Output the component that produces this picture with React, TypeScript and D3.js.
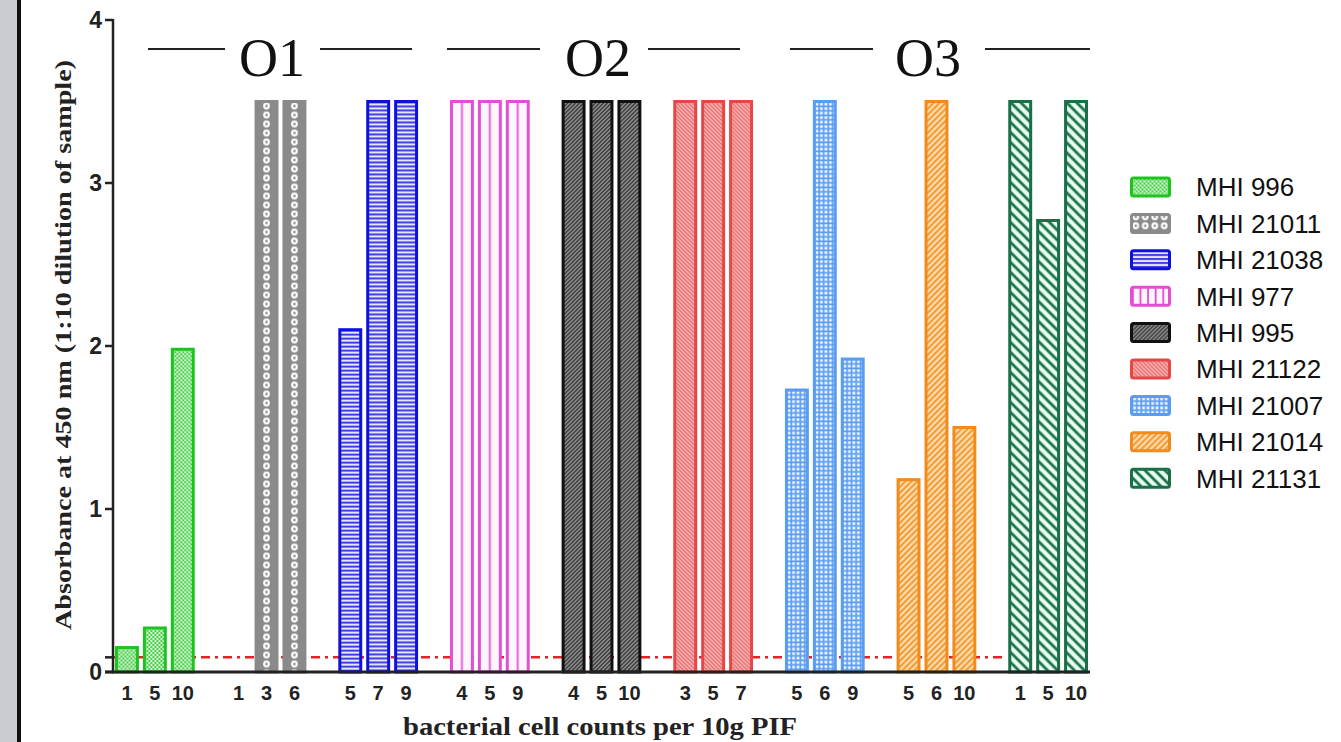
import React, { useEffect, useRef } from 'react';
import * as d3 from 'd3';

// strains (legend order) and the serotype they belong to
const strains = ['MHI 996', 'MHI 21011', 'MHI 21038', 'MHI 977', 'MHI 995', 'MHI 21122', 'MHI 21007', 'MHI 21014', 'MHI 21131'];
const strainColors = ['#1ec41e', '#8a8a8a', '#1010dc', '#e24fd4', '#111111', '#e84646', '#5a9cf0', '#f28a1c', '#1a6e48'];
const serotypes = ['O1', 'O2', 'O3'];
const serotypeOfStrain = ['O1', 'O1', 'O1', 'O2', 'O2', 'O2', 'O3', 'O3', 'O3'];

// x tick labels (bacterial cell counts) per strain
const cellCounts = [
  ['1', '5', '10'],
  ['1', '3', '6'],
  ['5', '7', '9'],
  ['4', '5', '9'],
  ['4', '5', '10'],
  ['3', '5', '7'],
  ['5', '6', '9'],
  ['5', '6', '10'],
  ['1', '5', '10'],
];

// absorbance at 450 nm, one row per strain
const absorbance = [
  [0.15, 0.27, 1.98],
  [0, 3.5, 3.5],
  [2.1, 3.5, 3.5],
  [3.5, 3.5, 3.5],
  [3.5, 3.5, 3.5],
  [3.5, 3.5, 3.5],
  [1.73, 3.5, 1.92],
  [1.18, 3.5, 1.5],
  [3.5, 2.77, 3.5],
];

const yTicks = [0, 1, 2, 3, 4];
const cutoff = 0.09;

const W = 1341, H = 742;

export default function App() {
  const ref = useRef<SVGSVGElement>(null);

  useEffect(() => {
    const svg = d3.select(ref.current);
    svg.selectAll('*').remove();

    const left = 113, right = 1090, top = 20, bottom = 672;

    const x = d3.scaleBand<string>().domain(strains).range([left, right]).paddingInner(0.25).paddingOuter(0);
    const xi = d3.scaleBand<number>().domain([0, 1, 2]).range([0, x.bandwidth()]).paddingInner(0.25).paddingOuter(0.125);
    const y = d3.scaleLinear().domain([0, 4]).range([bottom, top]);
    const bw = xi.bandwidth();

    const defs = svg.append('defs');
    // one pattern per bar so the fill lines up with the bar's left edge
    const makePattern = (id: string, si: number, ox: number, oy: number, w0: number) => {
      const pat = (w: number, h: number, bg: string) => {
        const p = defs.append('pattern').attr('id', id).attr('patternUnits', 'userSpaceOnUse')
          .attr('x', ox).attr('y', oy).attr('width', w).attr('height', h);
        p.append('rect').attr('width', w).attr('height', h).attr('fill', bg);
        return p;
      };
      let p;
      switch (si) {
        case 0:
          p = pat(4, 4, '#d4f4d4');
          p.append('rect').attr('width', 2).attr('height', 2).attr('fill', '#4ccf4c');
          p.append('rect').attr('x', 2).attr('y', 2).attr('width', 2).attr('height', 2).attr('fill', '#4ccf4c');
          break;
        case 1:
          p = pat(w0, 9, '#8a8a8a');
          p.append('circle').attr('cx', w0 / 2).attr('cy', 4.5).attr('r', 3.4).attr('fill', '#fff');
          p.append('circle').attr('cx', w0 / 2).attr('cy', 4.5).attr('r', 1.3).attr('fill', '#8a8a8a');
          break;
        case 2:
          p = pat(4, 4, '#e6e6ff');
          p.append('rect').attr('width', 4).attr('height', 1.8).attr('fill', '#3030e0');
          break;
        case 3:
          p = pat(w0, 8, '#fff6fd');
          p.append('rect').attr('x', w0 / 2 - 0.9).attr('width', 1.8).attr('height', 8).attr('fill', '#e24fd4');
          break;
        case 4:
          p = pat(4, 4, '#2a2a2a');
          p.append('path').attr('d', 'M-1,1 l2,-2 M0,4 l4,-4 M3,5 l2,-2').attr('stroke', '#a8a8a8').attr('stroke-width', 1.3);
          break;
        case 5:
          p = pat(4, 4, '#f6c4c4');
          p.append('path').attr('d', 'M-1,3 l2,2 M0,0 l4,4 M3,-1 l2,2').attr('stroke', '#e45c5c').attr('stroke-width', 1.3);
          break;
        case 6:
          p = pat(4.5, 4.5, '#5a9cf0');
          p.append('rect').attr('x', 1.2).attr('y', 1.2).attr('width', 2.8).attr('height', 2.8).attr('fill', '#eef5ff');
          break;
        case 7:
          p = pat(6, 6, '#f29a34');
          p.append('path').attr('d', 'M-1.5,1.5 l3,-3 M0,6 l6,-6 M4.5,7.5 l3,-3').attr('stroke', '#fde2b8').attr('stroke-width', 2);
          break;
        default:
          p = pat(10, 10, '#e8fff2');
          p.append('path').attr('d', 'M-2.5,7.5 l5,5 M0,0 l10,10 M7.5,-2.5 l5,5').attr('stroke', '#1a6e48').attr('stroke-width', 2.8);
      }
      return `url(#${id})`;
    };

    // left frame
    svg.append('rect').attr('x', 0).attr('y', 0).attr('width', 17).attr('height', H).attr('fill', '#c9cdd1');
    svg.append('rect').attr('x', 17).attr('y', 0).attr('width', 4).attr('height', H).attr('fill', '#111');

    // cutoff line
    svg.append('line')
      .attr('x1', left).attr('x2', x(strains[strains.length - 1])!)
      .attr('y1', y(cutoff)).attr('y2', y(cutoff))
      .attr('stroke', '#e02424').attr('stroke-width', 2.5).attr('stroke-dasharray', '9,5,3,5');

    // bars
    strains.forEach((s, si) => {
      absorbance[si].forEach((v, bi) => {
        if (v <= 0) return;
        const bx = x(s)! + xi(bi)!;
        svg.append('rect')
          .attr('x', bx)
          .attr('y', y(v))
          .attr('width', bw)
          .attr('height', y(0) - y(v))
          .attr('fill', makePattern(`p${si}_${bi}`, si, bx, y(v), bw))
          .attr('stroke', strainColors[si])
          .attr('stroke-width', 3);
      });
    });

    // axes
    const axisColor = '#222';
    svg.append('line').attr('x1', left).attr('x2', left).attr('y1', top - 1).attr('y2', bottom + 1.5).attr('stroke', axisColor).attr('stroke-width', 2.5);
    svg.append('line').attr('x1', left - 8).attr('x2', right).attr('y1', bottom).attr('y2', bottom).attr('stroke', axisColor).attr('stroke-width', 3);
    [...yTicks, cutoff].forEach((t) => {
      svg.append('line').attr('x1', left - 8).attr('x2', left).attr('y1', y(t)).attr('y2', y(t)).attr('stroke', axisColor).attr('stroke-width', 2.5);
    });
    yTicks.forEach((t) => {
      svg.append('text').attr('x', left - 11).attr('y', y(t)).attr('dy', '0.36em')
        .attr('text-anchor', 'end').attr('font-family', 'Liberation Sans, Arial, sans-serif')
        .attr('font-weight', 'bold').attr('font-size', 23).attr('fill', '#222').text(t);
    });
    strains.forEach((s, si) => {
      cellCounts[si].forEach((c, bi) => {
        svg.append('text').attr('x', x(s)! + xi(bi)! + bw / 2).attr('y', 700)
          .attr('text-anchor', 'middle').attr('font-family', 'Liberation Sans, Arial, sans-serif')
          .attr('font-weight', 'bold').attr('font-size', 20).attr('fill', '#222').text(c);
      });
    });

    // axis titles
    svg.append('text').attr('x', 600).attr('y', 735)
      .attr('text-anchor', 'middle').attr('font-family', 'Liberation Serif, Times New Roman, serif')
      .attr('font-weight', 'bold').attr('font-size', 25).attr('fill', '#222')
      .attr('textLength', 394).attr('lengthAdjust', 'spacingAndGlyphs')
      .text('bacterial cell counts per 10g PIF');
    svg.append('text').attr('transform', `translate(71,${(top + bottom) / 2 - 1}) rotate(-90)`)
      .attr('text-anchor', 'middle').attr('font-family', 'Liberation Serif, Times New Roman, serif')
      .attr('font-weight', 'bold').attr('font-size', 24).attr('fill', '#222')
      .attr('textLength', 570).attr('lengthAdjust', 'spacingAndGlyphs')
      .text('Absorbance at 450 nm (1:10 dilution of sample)');

    // serotype headers: [start inset, end inset, text shift, left gap, right gap]
    const headerLayout = [[35, -8, -8, 47, 48], [-1, -15, 4.5, 58, 50], [7, 0, -12, 55, 57]];
    serotypes.forEach((o, oi) => {
      const members = strains.filter((_, i) => serotypeOfStrain[i] === o);
      const [i0, i1, shift, gl, gr] = headerLayout[oi];
      const x0 = x(members[0])! + i0;
      const x1 = x(members[members.length - 1])! + x.bandwidth() + i1;
      const cx = (x0 + x1) / 2 + shift;
      const ly = 49;
      svg.append('text').attr('x', cx).attr('y', 76).attr('text-anchor', 'middle')
        .attr('font-family', 'Liberation Serif, Times New Roman, serif').attr('font-size', 54).attr('fill', '#111').text(o);
      svg.append('line').attr('x1', x0).attr('x2', cx - gl).attr('y1', ly).attr('y2', ly).attr('stroke', '#222').attr('stroke-width', 2);
      svg.append('line').attr('x1', cx + gr).attr('x2', x1).attr('y1', ly).attr('y2', ly).attr('stroke', '#222').attr('stroke-width', 2);
    });

    // legend
    const lg = svg.append('g').attr('transform', 'translate(1130,187)');
    strains.forEach((s, si) => {
      const ry = 187 + si * 36.4;
      const g = lg.append('g').attr('transform', `translate(0,${si * 36.4})`);
      g.append('rect').attr('x', 1.5).attr('y', -9).attr('width', 38).attr('height', 18).attr('rx', 2)
        .attr('fill', makePattern(`lg${si}`, si, 1131.5, ry - 9 - 0.5, si === 3 ? 7.6 : 9.5)).attr('stroke', strainColors[si]).attr('stroke-width', 3);
      g.append('text').attr('x', 66).attr('y', 0).attr('dy', '0.36em')
        .attr('font-family', 'Liberation Sans, Arial, sans-serif').attr('font-size', 26).attr('fill', '#111').text(s);
    });
  }, []);

  return (
    <svg ref={ref} width={W} height={H} style={{ position: 'absolute', left: 0, top: 0, background: '#fff' }} />
  );
}
